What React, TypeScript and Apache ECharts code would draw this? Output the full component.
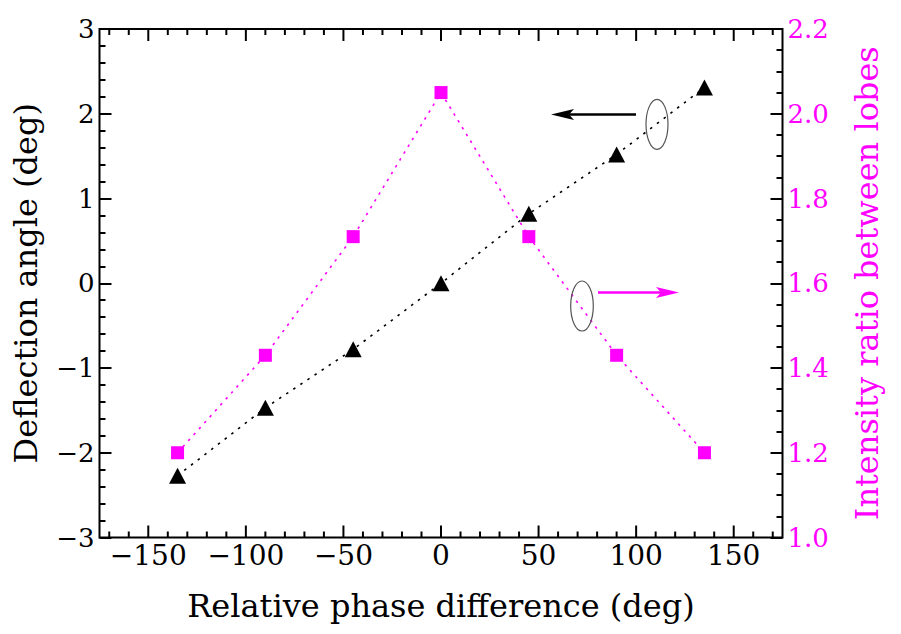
import React, { useEffect, useRef } from "react";
import * as echarts from "echarts";

const phase = [-135, -90, -45, 0, 45, 90, 135];
const deflection = [-2.27, -1.47, -0.78, 0.0, 0.82, 1.52, 2.31];
const intensity = [1.2, 1.43, 1.71, 2.05, 1.71, 1.43, 1.2];
const xMajorTicks = [-150, -100, -50, 0, 50, 100, 150];
const xMinorTicks = [
  -170, -160, -140, -130, -120, -110, -90, -80, -70, -60, -40, -30, -20, -10,
  10, 20, 30, 40, 60, 70, 80, 90, 110, 120, 130, 140, 160, 170,
];

const FONT = '"DejaVu Serif", serif';
const MAGENTA = "#ff00ff";

const fmt = (v: number) => (v < 0 ? "\u2212" + Math.abs(v) : String(v));

export default function App() {
  const ref = useRef<HTMLDivElement>(null);
  useEffect(() => {
    const chart = echarts.init(ref.current!, null, { renderer: "svg" });
    chart.setOption({
      animation: false,
      backgroundColor: "#ffffff",
      grid: {
        left: 99.5,
        top: 29,
        right: 118.5,
        bottom: 96.5,
        show: true,
        borderColor: "#000",
        borderWidth: 2,
        containLabel: false,
      },
      xAxis: {
        type: "value",
        min: -175,
        max: 175,
        axisLine: { show: false, onZero: false },
        axisTick: { show: false },
        axisLabel: { show: false },
        splitLine: { show: false },
        name: "Relative phase difference (deg)",
        nameLocation: "middle",
        nameGap: 52,
        nameTextStyle: { fontFamily: FONT, fontSize: 32, color: "#000" },
      },
      yAxis: [
        {
          type: "value",
          position: "left",
          min: -3,
          max: 3,
          interval: 1,
          axisLine: { show: false, onZero: false },
          axisTick: { show: true, inside: true, length: 12, lineStyle: { color: "#000", width: 2 } },
          minorTick: { show: true, splitNumber: 5, length: 6, lineStyle: { color: "#000", width: 2 } },
          axisLabel: {
            margin: 5,
            fontFamily: FONT,
            fontSize: 26,
            color: "#000",
            formatter: (v: number) => fmt(v),
          },
          splitLine: { show: false },
          name: "Deflection angle (deg)",
          nameLocation: "middle",
          nameRotate: 90,
          nameGap: 58,
          nameTextStyle: { fontFamily: FONT, fontSize: 32, color: "#000" },
        },
        {
          type: "value",
          position: "right",
          min: 1.0,
          max: 2.2,
          interval: 0.2,
          axisLine: { show: false, onZero: false },
          axisTick: { show: true, inside: true, length: 12, lineStyle: { color: "#000", width: 2 } },
          minorTick: { show: true, splitNumber: 4, length: 6, lineStyle: { color: "#000", width: 2 } },
          axisLabel: {
            margin: 5,
            fontFamily: FONT,
            fontSize: 26,
            color: MAGENTA,
            formatter: (v: number) => v.toFixed(1),
          },
          splitLine: { show: false },
          name: "Intensity ratio between lobes",
          nameLocation: "middle",
          nameRotate: 90,
          nameGap: 68,
          nameTextStyle: { fontFamily: FONT, fontSize: 32, color: MAGENTA },
        },
      ],
      series: [
        {
          type: "custom",
          coordinateSystem: "cartesian2d",
          xAxisIndex: 0,
          yAxisIndex: 0,
          silent: true,
          clip: false,
          data: xMajorTicks.map((v) => [v, 0]),
          renderItem: (params: any, api: any) => {
            const v = api.value(0);
            const pb = api.coord([v, -3]);
            const pt = api.coord([v, 3]);
            const ls = { stroke: "#000", lineWidth: 2 };
            return {
              type: "group",
              children: [
                { type: "line", shape: { x1: pb[0], y1: pb[1], x2: pb[0], y2: pb[1] - 12 }, style: ls },
                { type: "line", shape: { x1: pt[0], y1: pt[1], x2: pt[0], y2: pt[1] + 12 }, style: ls },
                {
                  type: "text",
                  x: pb[0],
                  y: pb[1] + 18,
                  style: {
                    text: fmt(v),
                    fill: "#000",
                    font: "28px " + FONT,
                    align: "center",
                    verticalAlign: "middle",
                  },
                },
              ],
            };
          },
        },
        {
          type: "custom",
          coordinateSystem: "cartesian2d",
          xAxisIndex: 0,
          yAxisIndex: 0,
          silent: true,
          clip: false,
          data: xMinorTicks.map((v) => [v, 0]),
          renderItem: (params: any, api: any) => {
            const v = api.value(0);
            const pb = api.coord([v, -3]);
            const pt = api.coord([v, 3]);
            const ls = { stroke: "#000", lineWidth: 2 };
            return {
              type: "group",
              children: [
                { type: "line", shape: { x1: pb[0], y1: pb[1], x2: pb[0], y2: pb[1] - 6 }, style: ls },
                { type: "line", shape: { x1: pt[0], y1: pt[1], x2: pt[0], y2: pt[1] + 6 }, style: ls },
              ],
            };
          },
        },
        {
          name: "Intensity ratio",
          type: "line",
          yAxisIndex: 1,
          data: phase.map((x, i) => [x, intensity[i]]),
          symbol: "rect",
          symbolSize: 13,
          itemStyle: { color: MAGENTA },
          lineStyle: { color: MAGENTA, width: 1.6, type: [2.5, 5.5] },
          z: 3,
        },
        {
          name: "Deflection angle",
          type: "line",
          yAxisIndex: 0,
          data: phase.map((x, i) => [x, deflection[i]]),
          symbol: "triangle",
          symbolSize: [17, 16],
          itemStyle: { color: "#000" },
          lineStyle: { color: "#000", width: 1.6, type: [2.5, 6] },
          z: 4,
        },
      ],
      graphic: [
        { type: "ellipse", shape: { cx: 657, cy: 124.3, rx: 11, ry: 25 }, style: { fill: "none", stroke: "#555", lineWidth: 1.2 }, z: 10 },
        { type: "ellipse", shape: { cx: 582, cy: 306, rx: 11.3, ry: 25 }, style: { fill: "none", stroke: "#555", lineWidth: 1.2 }, z: 10 },
        { type: "line", shape: { x1: 636, y1: 114.5, x2: 568, y2: 114.5 }, style: { stroke: "#000", lineWidth: 2.6 }, z: 10 },
        {
          type: "polygon",
          shape: { points: [[551, 114.5], [574, 109], [569, 114.5], [574, 120]] },
          style: { fill: "#000" },
          z: 10,
        },
        { type: "line", shape: { x1: 598, y1: 292.5, x2: 662, y2: 292.5 }, style: { stroke: MAGENTA, lineWidth: 2.6 }, z: 10 },
        {
          type: "polygon",
          shape: { points: [[679, 292.5], [656, 287], [661, 292.5], [656, 298]] },
          style: { fill: MAGENTA },
          z: 10,
        },
      ],
    });
    return () => chart.dispose();
  }, []);
  return (
    <div
      ref={ref}
      style={{ position: "fixed", left: 0, top: 0, width: 901, height: 634, background: "#fff" }}
    />
  );
}
